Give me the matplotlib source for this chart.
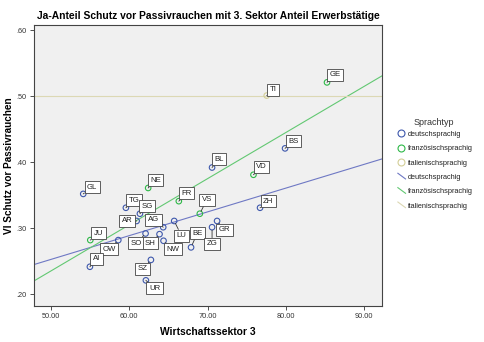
import numpy as np
import matplotlib
matplotlib.use("Agg")
import matplotlib.pyplot as plt
from matplotlib.lines import Line2D
from matplotlib.legend_handler import HandlerLine2D

plt.rcParams['font.family'] = ['Liberation Sans', 'DejaVu Sans']

# Data
cantons = ["GL", "NE", "TG", "SG", "FR", "VS", "AR", "AG", "LU", "JU", "OW", "SO", "SH",
           "NW", "BE", "ZG", "GR", "AI", "SZ", "UR", "BL", "GE", "TI", "BS", "VD", "ZH"]
sektor3 = [54.15, 62.43, 59.59, 61.38, 66.34, 69.02, 60.96, 64.35, 65.75, 55.05, 58.62, 62.10, 63.88,
           64.39, 67.90, 70.58, 71.22, 55.00, 62.78, 62.14, 70.58, 85.24, 77.55, 79.89, 75.86, 76.70]
ja_anteil = [0.352, 0.361, 0.331, 0.322, 0.341, 0.322, 0.311, 0.3015, 0.311, 0.282, 0.282, 0.292, 0.291,
             0.281, 0.271, 0.3015, 0.311, 0.2416, 0.252, 0.221, 0.392, 0.521, 0.501, 0.421, 0.381, 0.331]
sprache = ["d", "f", "d", "d", "f", "f", "d", "d", "d", "f", "d", "d", "d",
           "d", "d", "d", "d", "d", "d", "d", "d", "f", "i", "d", "f", "d"]
# label offsets (pixels) relative to marker
label_dx = [9, 7.3, 8, 7.3, 8, 7, -9.3, -9.7, 7.3, 8, -9, -9, -9,
            9.3, 6.3, 0, 7.7, 6.7, -8.7, 8.7, 6.7, 8, 6.3, 8.3, 8, 8.3]
label_dy = [6.7, 7.7, 7.3, 7.7, 7.7, 14, 0, 7.7, -14.7, 6.7, -9, -9.7, -9,
            -8.7, 14.3, -16.7, -9, 8, -9, -8, 8.3, 7.7, 5.7, 7.3, 8, 6.7]

groups = ["d", "f", "i"]
group_names = ["deutschsprachig", "französischsprachig", "italienischsprachig"]
colors = {"d": "#3E58AC", "f": "#2EB848", "i": "#D3CE97"}
line_colors = {"d": "#6E78C4", "f": "#62C872", "i": "#DCD8B4"}

x = np.array(sektor3)
y = np.array(ja_anteil)
s = np.array(sprache)

fig = plt.figure(figsize=(4.84, 3.42), dpi=100)
ax = fig.add_axes([0.0696, 0.105, 0.7204, 0.822])
ax.set_facecolor("#F0F0F0")

xlim = (47.83, 92.3)
ylim = (0.182, 0.608)

# fit lines
for g in groups:
    m = s == g
    if m.sum() > 1:
        k, b = np.polyfit(x[m], y[m], 1)
    else:
        k, b = 0.0, y[m][0]
    xx = np.array(xlim)
    ax.plot(xx, k * xx + b, color=line_colors[g], lw=0.8, zorder=2)

# points
for g in groups:
    m = s == g
    ax.scatter(x[m], y[m], s=16, facecolors="none", edgecolors=colors[g], linewidths=0.8, zorder=3)

# labels
for c, xi, yi, dx, dy in zip(cantons, sektor3, ja_anteil, label_dx, label_dy):
    ax.annotate(c, (xi, yi), xytext=(dx * 0.72, dy * 0.72), textcoords="offset points",
                ha="center", va="center", fontsize=5.6, color="#222222",
                bbox=dict(boxstyle="square,pad=0.32", fc="white", ec="#444444", lw=0.6),
                arrowprops=dict(arrowstyle="-", color="#333333", lw=0.6, shrinkA=0, shrinkB=2),
                zorder=4)

ax.set_xlim(*xlim)
ax.set_ylim(*ylim)
ax.set_xticks([50, 60, 70, 80, 90])
ax.set_xticklabels(["50.00", "60.00", "70.00", "80.00", "90.00"])
ax.set_yticks([0.2, 0.3, 0.4, 0.5, 0.6])
ax.set_yticklabels([".20", ".30", ".40", ".50", ".60"])
ax.tick_params(labelsize=5.3, labelcolor="#333333", length=3, width=0.6, color="#333333", pad=2)
for sp in ax.spines.values():
    sp.set_color("#444444")
    sp.set_linewidth(0.8)

ax.set_title("Ja-Anteil Schutz vor Passivrauchen mit 3. Sektor Anteil Erwerbstätige",
             fontsize=7.4, fontweight="bold", pad=4)
ax.set_xlabel("Wirtschaftssektor 3", fontsize=7.4, fontweight="bold", labelpad=5)
ax.set_ylabel("Vl Schutz vor Passivrauchen", fontsize=7.2, fontweight="bold", labelpad=2)


class DiagHandler(HandlerLine2D):
    def create_artists(self, legend, orig_handle, xdescent, ydescent, width, height, fontsize, trans):
        l = Line2D([0.2 * width, width], [height * 1.1, height * 0.0],
                   color=orig_handle.get_color(), lw=orig_handle.get_linewidth(), transform=trans)
        return [l]


handles = []
labels = []
for g, n in zip(groups, group_names):
    handles.append(Line2D([], [], marker="o", ls="none", markerfacecolor="none",
                          markeredgecolor=colors[g], markersize=5, markeredgewidth=0.8))
    labels.append(n)
hmap = {}
for g, n in zip(groups, group_names):
    h = Line2D([], [], color=line_colors[g], lw=0.8)
    handles.append(h)
    labels.append(n)
    hmap[h] = DiagHandler()

leg = fig.legend(handles, labels, title="Sprachtyp", loc="upper left",
                 bbox_to_anchor=(0.812, 0.665), frameon=False, fontsize=5.3,
                 title_fontsize=6.5, handlelength=1.3, handletextpad=0.3,
                 labelspacing=0.98, handler_map=hmap, borderaxespad=0)
leg._legend_box.sep = 3
leg.get_title().set_color("#333333")
for t in leg.get_texts():
    t.set_color("#222222")

fig.savefig("out.png", dpi=100, facecolor="white")
